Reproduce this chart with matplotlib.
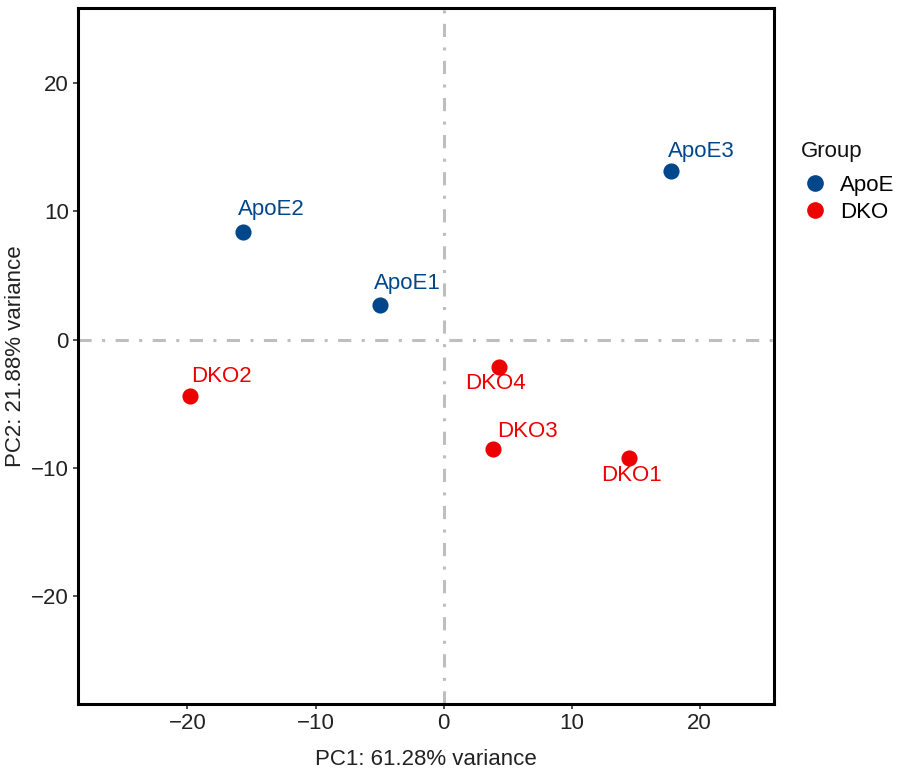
import matplotlib
matplotlib.use("Agg")
import matplotlib.pyplot as plt
from matplotlib.lines import Line2D

plt.rcParams['font.family'] = ['Liberation Sans', 'DejaVu Sans']
plt.rcParams['lines.scale_dashes'] = False

samples = ["ApoE1", "ApoE2", "ApoE3", "DKO1", "DKO2", "DKO3", "DKO4"]
groups = ["ApoE", "ApoE", "ApoE", "DKO", "DKO", "DKO", "DKO"]
pc1 = [-4.99, -15.64, 17.75, 14.5, -19.8, 3.86, 4.3]
pc2 = [2.71, 8.38, 13.16, -9.26, -4.38, -8.56, -2.15]
group_names = ["ApoE", "DKO"]
xticks = [-20, -10, 0, 10, 20]
yticks = [-20, -10, 0, 10, 20]
xlabel = "PC1: 61.28% variance"
ylabel = "PC2: 21.88% variance"
legend_title = "Group"

colors = {"ApoE": "#00468B", "DKO": "#ED0000"}
# label offsets in points (left-aligned text), per sample
label_offsets = {
    "ApoE1": (-4.5, 15), "ApoE2": (-4, 16), "ApoE3": (-2, 14),
    "DKO1": (-20, -12), "DKO2": (0.5, 14), "DKO3": (3, 13), "DKO4": (-24, -12),
}
FS = 16

fig = plt.figure(figsize=(9.01, 7.76), dpi=100)
ax = fig.add_axes([78/901, 72/776, 696/901, 696/776])

for g in group_names:
    xs = [x for x, gg in zip(pc1, groups) if gg == g]
    ys = [y for y, gg in zip(pc2, groups) if gg == g]
    ax.scatter(xs, ys, s=135, color=colors[g], zorder=3, linewidths=0)

for name, g, x, y in zip(samples, groups, pc1, pc2):
    dx, dy = label_offsets[name]
    ax.annotate(name, (x, y), xytext=(dx, dy), textcoords='offset points',
                ha='left', va='center', color=colors[g], fontsize=FS, zorder=4)

dash = (0, (9.5, 7.5, 2.2, 7.5))
ax.axhline(0, color='#BEBEBE', lw=2.2, linestyle=dash, zorder=1)
ax.axvline(0, color='#BEBEBE', lw=2.2, linestyle=dash, zorder=1)

ax.set_xlim(-28.55, 25.8)
ax.set_ylim(-28.4, 25.84)
ax.set_xticks(xticks)
ax.set_yticks(yticks)
ax.set_xticklabels([str(t).replace('-', '\u2212') for t in xticks])
ax.set_yticklabels([str(t).replace('-', '\u2212') for t in yticks])
ax.tick_params(direction='out', length=3.5, width=1.2, color='#333333',
               labelsize=FS, labelcolor='#222222', pad=3)
for sp in ax.spines.values():
    sp.set_linewidth(2.2)
    sp.set_color('black')

ax.set_xlabel(xlabel, fontsize=FS, color='#222222', labelpad=11)
ax.set_ylabel(ylabel, fontsize=FS, color='#222222', labelpad=4)

handles = [Line2D([], [], marker='o', linestyle='', markersize=12,
                  markerfacecolor=colors[g], markeredgewidth=0) for g in group_names]
fig.text(801/901, 1 - 151/776, legend_title, fontsize=FS, color='#111111',
         ha='left', va='center')
leg = fig.legend(handles, group_names, loc='upper left',
                 bbox_to_anchor=(793/901, 1 - 166/776), frameon=False,
                 fontsize=FS, handletextpad=0.5,
                 labelspacing=0.28, handlelength=1.2, borderaxespad=0)

fig.savefig("out.png", dpi=100)
